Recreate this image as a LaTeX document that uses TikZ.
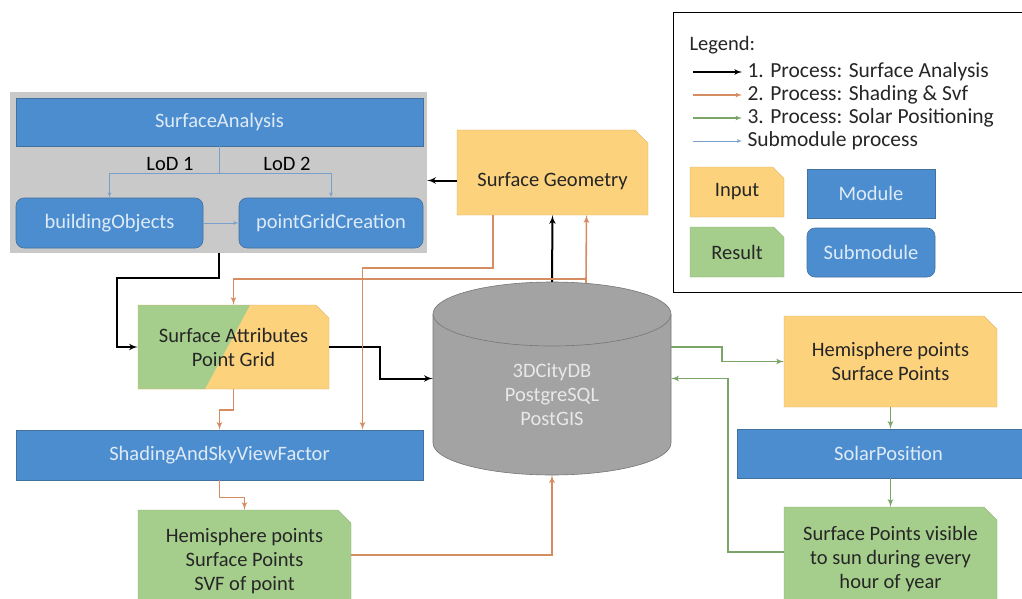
\documentclass[tikz,border=0pt]{standalone}
\usepackage{fontspec}
\setmainfont{Carlito}
\usepackage{xcolor}
\usetikzlibrary{shapes,arrows,positioning}

\definecolor{modblue}{RGB}{76,141,208}
\definecolor{modedge}{RGB}{65,113,156}
\definecolor{modtext}{RGB}{222,235,247}
\definecolor{inorange}{RGB}{253,210,125}
\definecolor{resgreen}{RGB}{165,206,140}
\definecolor{contgray}{RGB}{201,201,201}
\definecolor{dbgray}{RGB}{163,163,163}
\definecolor{dbedge}{RGB}{118,118,118}
\definecolor{dbtext}{RGB}{232,232,232}
\definecolor{arrorange}{RGB}{212,140,96}
\definecolor{arrgreen}{RGB}{122,164,104}
\definecolor{arrblue}{RGB}{120,160,200}
\definecolor{txtdark}{RGB}{38,38,38}

\begin{document}
\begin{tikzpicture}[x=1pt, y=-1pt, every node/.style={font=\fontsize{20.5}{24}\selectfont, text=txtdark}]
  \tikzstyle{module} = [rectangle, draw=modedge, fill=modblue, text=modtext, line width=0.6pt, inner sep=0pt]
  \tikzstyle{submodule} = [module, rounded corners=8pt]
  \tikzstyle{input} = [chamfered rectangle, chamfered rectangle corners=north east, chamfered rectangle xsep=10pt, draw=inorange!85!black, fill=inorange, line width=0.4pt, align=center, inner sep=0pt]
  \tikzstyle{result} = [input, draw=resgreen!85!black, fill=resgreen]
  \tikzstyle{line} = [draw, -latex', line width=2pt, black]
  \tikzstyle{lineorange} = [draw, -latex', line width=1.6pt, arrorange]
  \tikzstyle{linegreen} = [draw, -latex', line width=1.6pt, arrgreen]
  \tikzstyle{lineblue} = [draw, -latex', line width=0.8pt, arrblue]

  \useasboundingbox (0,0) rectangle (1022,599);

  % Surface Analysis Module
  \node[fill=contgray, minimum width=417pt, minimum height=161pt, inner sep=0pt] (sacont) at (218.5,172.5) {};
  \node[module, minimum width=407pt, minimum height=48pt] (sa) at (219.5,122) {SurfaceAnalysis};
  \node[submodule, minimum width=187pt, minimum height=50pt] (bo) at (109.5,223) {buildingObjects};
  \node[submodule, minimum width=184pt, minimum height=50pt] (pgc) at (331,223) {pointGridCreation};
  \coordinate (split) at ([yshift=-27pt]sa.south);
  \node[anchor=south, text=black] (lod1) at (170,174) {LoD 1};
  \node[anchor=south, text=black] (lod2) at (287,174) {LoD 2};
  \draw[arrblue, line width=0.8pt] (sa.south) -- (split);
  \draw[arrblue, line width=0.8pt] (bo.north |- split) -- (pgc.north |- split);
  \draw[lineblue] (bo.north |- split) -- (bo.north);
  \draw[lineblue] (pgc.north |- split) -- (pgc.north);
  \draw[lineblue] (bo) -- (pgc);

  % Inputs and Results
  \node[input, minimum width=191pt, minimum height=85pt, text height=31pt] (sg) at (552.5,172.5) {Surface Geometry};
  \node[input, minimum width=191pt, minimum height=84pt,
    path picture={\fill[resgreen] (path picture bounding box.north west) -- ([xshift=112pt]path picture bounding box.north west) -- ([xshift=67pt]path picture bounding box.south west) -- (path picture bounding box.south west) -- cycle;}]
    (attr) at (233.5,347) {Surface Attributes\\Point Grid};
  \node[module, minimum width=407pt, minimum height=50pt] (shade) at (219.5,455) {ShadingAndSkyViewFactor};
  \node[result, minimum width=213pt, minimum height=102pt] (hres) at (244.5,561) {Hemisphere points\\Surface Points\\SVF of point};
  \node[input, minimum width=213pt, minimum height=91pt] (hin) at (890.5,361.5) {Hemisphere points\\Surface Points};
  \node[module, minimum width=303pt, minimum height=49pt] (solar) at (888.5,453.5) {SolarPosition};
  \node[result, minimum width=213pt, minimum height=104pt] (sres) at (890.5,559) {Surface Points visible\\to sun during every\\hour of year};

  % Database
  \node[minimum width=238pt, minimum height=193pt, inner sep=0pt] (db) at (552,378.5) {};
  \filldraw[fill=dbgray, draw=dbedge, line width=0.6pt] (433,314) -- (433,443) arc[start angle=180, end angle=0, x radius=119, y radius=32] -- (671,314);
  \filldraw[fill=dbgray, draw=dbedge, line width=0.6pt] (552,314) ellipse[x radius=119, y radius=32];
  \node[text=dbtext, align=center] (dblabel) at (552,395) {3DCityDB\\PostgreSQL\\PostGIS};

  % 1. Process
  \coordinate (sgw) at ([yshift=-8pt]sg.west);
  \draw[line] (sgw) -- (sacont.east |- sgw);
  \draw[line] (sacont.south) -- ++(0,25) -| ([xshift=-21pt]attr.west) -- (attr.west);
  \draw[line] (attr.east) -- ++(51,0) |- (db.west);
  \draw[line] (db.north) -- (sg.south);

  % 2. Process
  \draw[lineorange] ([xshift=34pt,yshift=-1pt]db.north) -- ([xshift=34pt]sg.south);
  \draw[lineorange] ([xshift=34pt,yshift=3pt]db.north) -| (attr.north);
  \draw[lineorange] ([xshift=-59.5pt]sg.south) -- ++(0,53) -| ([xshift=143pt]shade.north);
  \draw[lineorange] (attr.south) -- ++(0,21) -| (shade.north);
  \draw[lineorange] (shade.south) -- ++(0,17) -| (hres.north);
  \draw[lineorange] ([yshift=6pt]hres.east) -| (db.south);

  % 3. Process
  \draw[linegreen] ([yshift=31.5pt]db.east) -- ++(51,0) |- (hin.west);
  \draw[linegreen] (hin.south) -- (hin.south |- solar.north);
  \draw[linegreen] (sres.north |- solar.south) -- (sres.north);
  \draw[linegreen] ([yshift=7pt]sres.west) -- ++(-56,0) |- (db.east);

  % Legend
  \node[draw=black, line width=0.8pt, minimum width=357pt, minimum height=280pt, inner sep=0pt] (legend) at (851.5,152) {};
  \node[anchor=west] (legtitle) at (686,45) {Legend:};
  \foreach \i/\y/\c/\w/\t in {1/72/black/1.6/{1. Process: Surface Analysis}, 2/95/arrorange/1.2/{2. Process: Shading \& Svf}, 3/118/arrgreen/1.2/{3. Process: Solar Positioning}, 4/141/arrblue/0.8/{Submodule process}} {
    \coordinate (ls\i) at (693,\y);
    \coordinate (le\i) at (742,\y);
    \draw[-latex', line width=\w pt, draw=\c] (ls\i) -- (le\i);
    \node[anchor=west, font=\fontsize{21.5}{24}\selectfont] (lt\i) at (744,\y) {\t};
  }
  \node[input, minimum width=94pt, minimum height=50pt] (lin) at (737,192) {Input};
  \node[module, minimum width=128pt, minimum height=49pt] (lmod) at (871,193.5) {Module};
  \node[result, minimum width=94pt, minimum height=50pt] (lres) at (737,252) {Result};
  \node[submodule, minimum width=128pt, minimum height=49pt] (lsub) at (871,252.5) {Submodule};
\end{tikzpicture}
\end{document}
